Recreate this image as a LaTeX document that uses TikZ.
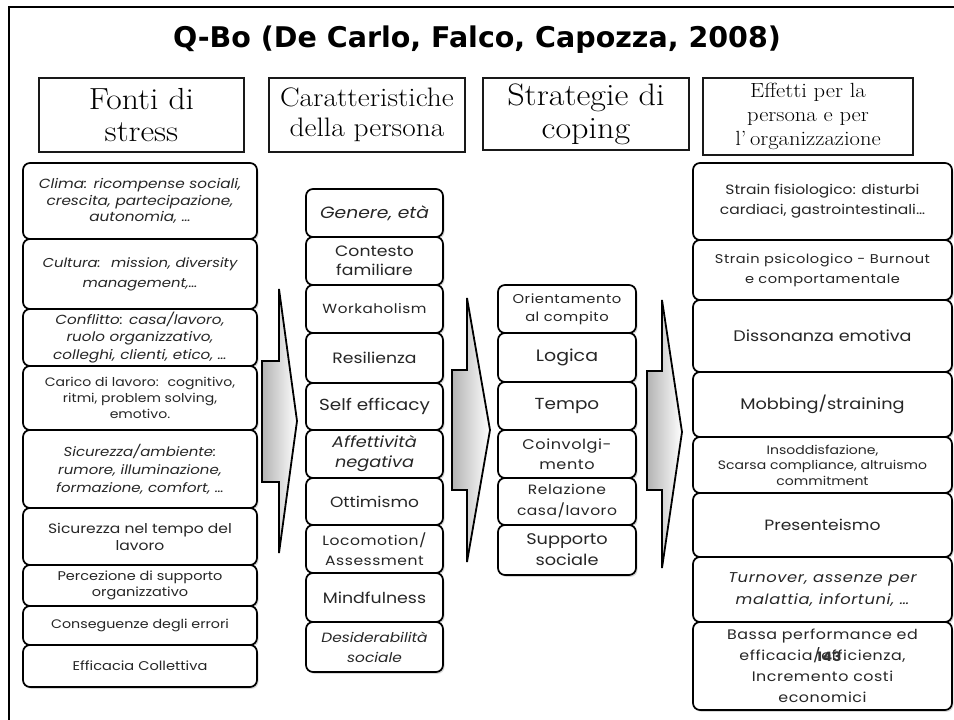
\documentclass[tikz,border=0pt]{standalone}
\usepackage{fontspec}
\setmainfont{Latin Modern Roman}
\newfontfamily\headf[FakeStretch=1.1]{Latin Modern Roman}
\newfontfamily\bodyf[FakeStretch=1.15]{Poppins}
\newfontfamily\titlef{DejaVu Sans}
\usetikzlibrary{shadows}
\newcommand\fsz[2]{\fontsize{#1}{#2}\selectfont}
\newcommand\lsp{\addfontfeature{LetterSpace=4}}
\newcommand\mkcell[7]{\node[#1, minimum width={(#5-#3)*1pt}, minimum height={(#6-#4)*1pt}] (#2) at ({(#3+#5)/2},{(#4+#6)/2}) {#7};}
\begin{document}
\begin{tikzpicture}[x=1pt, y=-1pt,
  cell/.style={draw=black, line width=1.7pt, rounded corners=7pt, fill=white,
    drop shadow={shadow xshift=1.5pt, shadow yshift=-1.8pt, opacity=.3},
    inner sep=1pt, align=center, text=black!85},
  head/.style={draw=black!90, line width=1.6pt, fill=white, align=center, inner sep=0pt},
  blockarrow/.style={draw=black, line width=1.8pt, line join=miter, left color=black!30, right color=white}]
\useasboundingbox (0,0) rectangle (954,720);
\fill[white] (0,0) rectangle (954,720);
% frame
\draw[line width=2.5pt] (954,7) -- (9,7) -- (9,720);
% title
\node[font=\titlef\bfseries\fsz{28.5}{34}, anchor=base] (title) at (477,47) {Q-Bo (De Carlo, Falco, Capozza, 2008)};
% headers
\mkcell{head, font=\headf\fsz{30.5}{32}}{h1}{39}{78}{244}{152}{Fonti di\\stress}
\mkcell{head, font=\headf\fsz{26.7}{30}}{h2}{269}{78}{465}{152}{Caratteristiche\\della persona}
\mkcell{head, font=\headf\fsz{31}{33}}{h3}{483}{78}{689}{150}{Strategie di\\coping}
\mkcell{head, font=\headf\fsz{20.5}{24}}{h4}{703}{78}{913}{155}{Effetti per la\\persona e per\\l’\,organizzazione}
% arrows
\draw[blockarrow] (262,361) -- (279,361) -- (279,289) -- (297,421) -- (279,553) -- (279,482) -- (262,482) -- cycle;
\draw[blockarrow] (452,370) -- (467,370) -- (467,298) -- (490,430) -- (467,562) -- (467,490) -- (452,490) -- cycle;
\draw[blockarrow] (647,371) -- (662,371) -- (662,300) -- (682,432) -- (662,568) -- (662,490) -- (647,490) -- cycle;
% left column
\mkcell{cell, font={\bodyf\itshape\fsz{13.3}{16.5}}}{l1}{23}{163}{257}{239}{Clima: ricompense sociali,\\crescita, partecipazione,\\autonomia, …}
\mkcell{cell, font={\bodyf\itshape\fsz{12.9}{20}}}{l2}{23}{239}{257}{309}{Cultura:~ mission, diversity\\management,…}
\mkcell{cell, font={\bodyf\itshape\fsz{13.2}{17.5}}}{l3}{23}{309}{257}{366}{Conflitto: casa/lavoro,\\ruolo organizzativo,\\colleghi, clienti, etico, …}
\mkcell{cell, font={\bodyf\fsz{12.2}{16}}}{l4}{23}{366}{257}{430}{Carico di lavoro:~ cognitivo,\\ritmi, problem solving,\\emotivo.}
\mkcell{cell, font={\bodyf\itshape\fsz{13}{18}}}{l5}{23}{430}{257}{508}{Sicurezza/ambiente:\\rumore, illuminazione,\\formazione, comfort, …}
\mkcell{cell, font={\bodyf\fsz{13.5}{17}}}{l6}{23}{508}{257}{565}{Sicurezza nel tempo del\\lavoro}
\mkcell{cell, font={\bodyf\fsz{12.6}{16}}}{l7}{23}{565}{257}{606}{Percezione di supporto\\organizzativo}
\mkcell{cell, font={\bodyf\fsz{12.4}{16}}}{l8}{23}{606}{257}{645}{Conseguenze degli errori}
\mkcell{cell, font={\bodyf\fsz{12.7}{16}}}{l9}{23}{645}{257}{687}{Efficacia Collettiva}
% middle column
\mkcell{cell, font={\bodyf\itshape\fsz{16.3}{19}}}{m1}{306}{189}{443}{237}{Genere, età}
\mkcell{cell, font={\bodyf\fsz{15}{19}}}{m2}{306}{237}{443}{285}{Contesto\\familiare}
\mkcell{cell, font={\bodyf\lsp\fsz{13.2}{18}}}{m3}{306}{285}{443}{333}{Workaholism}
\mkcell{cell, font={\bodyf\fsz{15}{19}}}{m4}{306}{333}{443}{383}{Resilienza}
\mkcell{cell, font={\bodyf\fsz{16}{19}}}{m5}{306}{383}{443}{430}{Self efficacy}
\mkcell{cell, font={\bodyf\itshape\fsz{15.4}{20}}}{m6}{306}{430}{443}{478}{Affettività\\negativa}
\mkcell{cell, font={\bodyf\fsz{14.8}{19}}}{m7}{306}{478}{443}{525}{Ottimismo}
\mkcell{cell, font={\bodyf\lsp\fsz{13.5}{20}}}{m8}{306}{525}{443}{573}{Locomotion/\\Assessment}
\mkcell{cell, font={\bodyf\fsz{15.1}{19}}}{m9}{306}{573}{443}{622}{Mindfulness}
\mkcell{cell, font={\bodyf\itshape\fsz{13.4}{20}}}{m10}{306}{622}{443}{672}{Desiderabilità\\sociale}
% coping column
\mkcell{cell, font={\bodyf\lsp\fsz{12.8}{18}}}{c1}{498}{285}{636}{333}{Orientamento\\al compito}
\mkcell{cell, font={\bodyf\fsz{16.5}{20}}}{c2}{498}{333}{636}{382}{Logica}
\mkcell{cell, font={\bodyf\fsz{16}{20}}}{c3}{498}{382}{636}{430}{Tempo}
\mkcell{cell, font={\bodyf\lsp\fsz{14}{20}}}{c4}{498}{430}{636}{478}{Coinvolgi-\\mento}
\mkcell{cell, font={\bodyf\lsp\fsz{13.5}{21}}}{c5}{498}{478}{636}{525}{Relazione\\casa/lavoro}
\mkcell{cell, font={\bodyf\fsz{15.4}{21}}}{c6}{498}{525}{636}{575}{Supporto\\sociale}
% right column
\mkcell{cell, font={\bodyf\fsz{13.5}{20}}}{r1}{693}{163}{952}{240}{Strain fisiologico: disturbi\\cardiaci, gastrointestinali…}
\mkcell{cell, font={\bodyf\lsp\fsz{12.7}{20}}}{r2}{693}{240}{952}{300}{Strain psicologico - Burnout\\e comportamentale}
\mkcell{cell, font={\bodyf\fsz{15.3}{20}}}{r3}{693}{300}{952}{372}{Dissonanza emotiva}
\mkcell{cell, font={\bodyf\fsz{15.4}{20}}}{r4}{693}{372}{952}{437}{Mobbing/straining}
\mkcell{cell, font={\bodyf\fsz{12.2}{15.5}}}{r5}{693}{437}{952}{493}{Insoddisfazione,\\Scarsa compliance, altruismo\\commitment}
\mkcell{cell, font={\bodyf\fsz{14.9}{20}}}{r6}{693}{493}{952}{557}{Presenteismo}
\mkcell{cell, font={\bodyf\itshape\lsp\fsz{14.2}{22}}}{r7}{693}{557}{952}{622}{Turnover, assenze per\\malattia, infortuni, …}
\mkcell{cell, font={\bodyf\lsp\fsz{13.8}{21}}}{r8}{693}{622}{952}{710}{Bassa performance ed\\efficacia/efficienza,\\Incremento costi\\economici}
\node[font={\bodyf\bfseries\fsz{13}{13}}, text=black!80, inner sep=0pt] (pg) at (829,657) {143};
\end{tikzpicture}
\end{document}
